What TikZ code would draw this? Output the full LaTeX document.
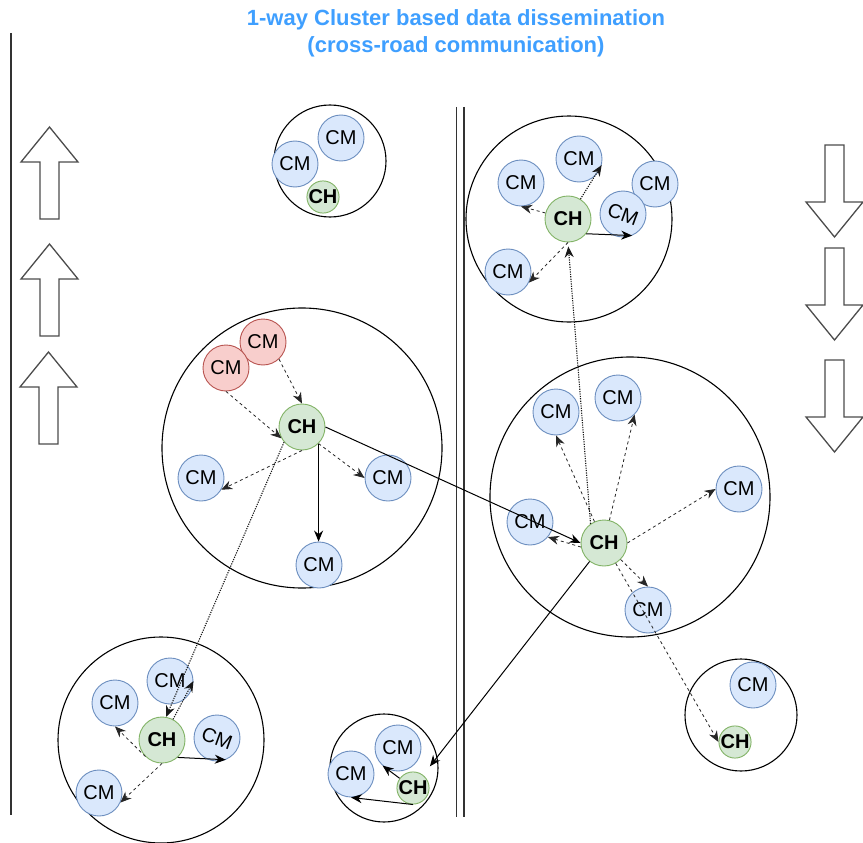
\documentclass[tikz,border=0pt]{standalone}
\usepackage{fontspec}
\setmainfont{Liberation Sans}
\usepackage{graphicx}
\usepackage{tikz}
\usetikzlibrary{arrows.meta}

\definecolor{cmfill}{HTML}{DAE8FC}
\definecolor{cmline}{HTML}{6C8EBF}
\definecolor{chfill}{HTML}{D5E8D4}
\definecolor{chline}{HTML}{82B366}
\definecolor{redfill}{HTML}{F8CECC}
\definecolor{redline}{HTML}{B85450}
\definecolor{titleblue}{HTML}{3F9FFF}

\tikzset{
  member/.style={circle, draw=cmline, fill=cmfill, line width=0.9pt, minimum size=46pt, inner sep=0pt, font=\fontsize{20}{24}\selectfont},
  redmember/.style={member, draw=redline, fill=redfill},
  head/.style={member, draw=chline, fill=chfill, font=\fontsize{20}{24}\selectfont\bfseries},
  smallhead/.style={head, minimum size=32pt},
  cluster/.style={draw=black, line width=1.1pt},
  road/.style={draw=black!80, line width=1.6pt},
  blockarrow/.style={draw=black!70, line width=1.3pt},
  lnk/.style={-{Stealth[length=11pt,width=9pt]}, line width=1pt},
  dsh/.style={lnk, draw=black!85, line width=0.8pt, dash pattern=on 3pt off 3pt},
  dotlnk/.style={lnk, draw=black!90, line width=1.1pt, dash pattern=on 1.2pt off 1.2pt}
}

\begin{document}
\begin{tikzpicture}[x=1pt,y=-1pt]
  \useasboundingbox (0,0) rectangle (863,843);
  \node[text=titleblue, align=center, font=\fontsize{22}{27}\selectfont\bfseries] (title) at (456,33.5)
    {1-way Cluster based data dissemination\\(cross-road communication)};

  \draw[road] (11,33) -- (11,815);
  \draw[road] (456.5,107) -- (456.5,817);
  \draw[road] (464,107) -- (464,817);

  \foreach \x/\t in {49.5/127, 49.5/244, 48.5/352}
    \draw[blockarrow] (\x,\t) -- ++(28.5,35) -- ++(-19,0) -- ++(0,57) -- ++(-19,0) -- ++(0,-57) -- ++(-19,0) -- cycle;
  \foreach \t in {237, 340, 452}
    \draw[blockarrow] (834.5,\t) -- ++(28.5,-35) -- ++(-19,0) -- ++(0,-57) -- ++(-19,0) -- ++(0,57) -- ++(-19,0) -- cycle;

  \draw[cluster] (330,161) circle[radius=56pt];
  \draw[cluster] (569,219) circle[radius=103pt];
  \draw[cluster] (302,448) circle[radius=140pt];
  \draw[cluster] (630,497) circle[radius=140pt];
  \draw[cluster] (161,740) circle[radius=103pt];
  \draw[cluster] (384,768) circle[radius=54pt];
  \draw[cluster] (741,715) circle[radius=56pt];

  \node[member] (Acm1) at (341,138) {CM};
  \node[member] (Acm2) at (295,164) {CM};
  \node[smallhead] (Ach) at (323,197) {CH};

  \node[member] (Bcm3) at (655,184) {CM};
  \node[member] (Bcm4) at (623,214) {\rotatebox{-20}{CM}};
  \node[member] (Bcm1) at (521,183) {CM};
  \node[member] (Bcm2) at (579,159) {CM};
  \node[member] (Bcm5) at (508,272) {CM};
  \node[head] (Bch) at (568,219) {CH};

  \node[redmember] (Ccm1) at (263,342) {CM};
  \node[redmember] (Ccm2) at (226,368) {CM};
  \node[head] (Cch) at (302,427) {CH};
  \node[member] (Ccm3) at (201,478) {CM};
  \node[member] (Ccm4) at (388,478) {CM};
  \node[member] (Ccm5) at (319,565) {CM};

  \node[head] (Dch) at (604,543) {CH};
  \node[member] (Dcm1) at (556,412) {CM};
  \node[member] (Dcm2) at (618,398) {CM};
  \node[member] (Dcm3) at (739,489) {CM};
  \node[member] (Dcm4) at (530,522) {CM};
  \node[member] (Dcm5) at (648,610) {CM};

  \node[head] (Ech) at (162,740) {CH};
  \node[member] (Ecm1) at (115,703) {CM};
  \node[member] (Ecm2) at (170,681) {CM};
  \node[member] (Ecm3) at (217,738) {\rotatebox{-20}{CM}};
  \node[member] (Ecm4) at (99,793) {CM};

  \node[member] (Fcm1) at (398,748) {CM};
  \node[member] (Fcm2) at (351,774) {CM};
  \node[smallhead] (Fch) at (413,788) {CH};

  \node[member] (Gcm) at (753,685) {CM};
  \node[smallhead] (Gch) at (735,742) {CH};

  \draw[dsh] (Bch) -- (Bcm1.south);
  \draw[dotlnk] (Bch) -- (Bcm2.-15);
  \draw[lnk] (Bch.-39) -- (Bcm4.-67);
  \draw[dsh] (Bch.south) -- (Bcm5.-27);

  \draw[dsh] (Ccm1.-47) -- (Cch.north);
  \draw[dsh] (Ccm2.south) -- (Cch.209);
  \draw[dsh] (Cch.south) -- (Ccm3.-30);
  \draw[dsh] (Cch.-45) -- (Ccm4.west);
  \draw[lnk] (Cch.-45) -- (Cch.-45 |- Ccm5.north);
  \draw[lnk] (Cch.east) -- (Dch.west);
  \draw[dotlnk] (Cch.220) -- (Ech.80);

  \draw[dsh] (Dch) -- (Dcm1.south);
  \draw[dsh] (Dch) -- (Dcm2.-45);
  \draw[dsh] (Dch.east) -- (Dcm3.west);
  \draw[dsh] (Dch.190) -- (Dcm4.-40);
  \draw[dsh] (Dch) -- (Dcm5.north);
  \draw[dsh] (Dch) -- (Gch.west);
  \draw[lnk, shorten >=11pt] (Dch) -- (Fch);
  \draw[dotlnk, shorten >=4pt] (Dch.125) -- (Bch.south);

  \draw[dsh] (Ech.225) -- (Ecm1.south);
  \draw[dotlnk] (Ech) -- (Ecm2.east);
  \draw[lnk] (Ech.-48) -- (Ecm3.-68);
  \draw[dsh] (Ech.south) -- (Ecm4.-24);

  \draw[lnk] (Fch.144) -- (Fcm1.229);
  \draw[lnk] (Fch.south) -- (Fcm2.south);
\end{tikzpicture}
\end{document}
